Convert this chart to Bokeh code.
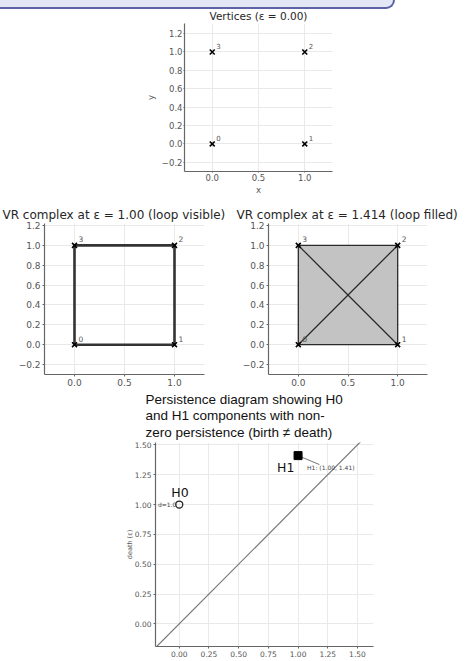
from bokeh.plotting import figure
from bokeh.layouts import column, row
from bokeh.models import Range1d, FixedTicker, Label, Div
from bokeh.core.properties import value
from bokeh.embed import file_html
from bokeh.resources import INLINE

# ---------------- data ----------------
vertex_x = [0.0, 1.0, 1.0, 0.0]
vertex_y = [0.0, 0.0, 1.0, 1.0]
vertex_labels = ["0", "1", "2", "3"]
edges_eps_loop = [(0, 1), (1, 2), (2, 3), (3, 0)]
edges_eps_filled = [(0, 1), (1, 2), (2, 3), (3, 0), (0, 2), (1, 3)]
titles = ["Vertices (ε = 0.00)",
          "VR complex at ε = 1.00 (loop visible)",
          "VR complex at ε = 1.414 (loop filled)"]
pd_title_lines = ["Persistence diagram showing H0",
                  "and H1 components with non-",
                  "zero persistence (birth ≠ death)"]

h0_birth = [0.0]
h0_death = [1.0]
h0_note = ["d=1.0"]
h1_birth = [1.0]
h1_death = [1.41]
h1_note = ["H1: (1.00, 1.41)"]
diag_xy = [-0.2, 1.55]

vr_xticks = [0.0, 0.5, 1.0]
vr_xtick_labels = ["0.0", "0.5", "1.0"]
vr_yticks = [-0.2, 0.0, 0.2, 0.4, 0.6, 0.8, 1.0, 1.2]
vr_ytick_labels = ["−0.2", "0.0", "0.2", "0.4", "0.6", "0.8", "1.0", "1.2"]
pd_ticks = [0.0, 0.25, 0.5, 0.75, 1.0, 1.25, 1.5]
pd_tick_labels = ["0.00", "0.25", "0.50", "0.75", "1.00", "1.25", "1.50"]

FONT = "DejaVu Sans"


def style_axes(p, tick_font, label_font, tick_out=2, standoff=2):
    for ax in (p.xaxis[0], p.yaxis[0]):
        ax.axis_line_color = "#666666"
        ax.axis_line_width = 1.2
        ax.major_tick_line_color = "#666666"
        ax.major_tick_out = tick_out
        ax.major_tick_in = 0
        ax.minor_tick_line_color = None
        ax.major_label_text_font = FONT
        ax.major_label_text_font_size = tick_font
        ax.major_label_text_color = "#555555"
        ax.major_label_standoff = standoff
        ax.axis_label_text_font = FONT
        ax.axis_label_text_font_size = label_font
        ax.axis_label_text_font_style = "normal"
        ax.axis_label_text_color = "#555555"
        ax.axis_label_standoff = 3
    p.grid.grid_line_color = "#e9e9e9"
    p.outline_line_color = None
    p.background_fill_color = "white"
    p.border_fill_color = "white"


def set_title(p, text, size, font, color, align, offset, line_height=1.2):
    p.title.text = text
    p.title.align = align
    p.title.offset = offset
    p.title.vertical_align = "top"
    p.title.standoff = 0
    p.title.text_font = font
    p.title.text_font_style = "normal"
    p.title.text_font_size = size
    p.title.text_color = color
    p.title.text_line_height = line_height


def vr_figure(title, w, h, left, right, top, bottom, tick_font, title_offset):
    p = figure(width=w, height=h, x_range=Range1d(-0.3, 1.3), y_range=Range1d(-0.3, 1.22),
               output_backend="svg", toolbar_location=None,
               min_border_left=left, min_border_right=right,
               min_border_top=top, min_border_bottom=bottom)
    set_title(p, title, "12px", FONT, "#262626", "left", title_offset, line_height=1.0)
    p.xaxis.ticker = FixedTicker(ticks=vr_xticks)
    p.yaxis.ticker = FixedTicker(ticks=vr_yticks)
    p.xaxis.major_label_overrides = dict(zip(vr_xticks, vr_xtick_labels))
    p.yaxis.major_label_overrides = dict(zip(vr_yticks, vr_ytick_labels))
    style_axes(p, tick_font, "8.5px")
    return p


def draw_vertices(p, label_font):
    p.scatter(vertex_x, vertex_y, marker="x", size=7, line_color="black", line_width=1.6)
    p.text(vertex_x, vertex_y, text=vertex_labels, x_offset=4, y_offset=-6,
           text_font=value(FONT), text_font_size=label_font, text_color="#555555",
           text_baseline="middle", text_align="left")


def edge_lines(edges):
    xs = [[vertex_x[a], vertex_x[b]] for a, b in edges]
    ys = [[vertex_y[a], vertex_y[b]] for a, b in edges]
    return xs, ys


# ---------------- banner (cut-off header box) ----------------
banner = Div(text="", width=395, height=9, margin=(0, 0, 0, 0),
             styles={"background-color": "#e4e8f6",
                     "border-right": "2px solid #5b63a6",
                     "border-bottom": "2px solid #5b63a6",
                     "border-bottom-right-radius": "12px",
                     "box-sizing": "border-box"})

# ---------------- top: vertices ----------------
p_top = figure(width=468, height=191, x_range=Range1d(-0.3, 1.3), y_range=Range1d(-0.3, 1.31),
               output_backend="svg", toolbar_location=None,
               min_border_left=184, min_border_right=136, min_border_top=13, min_border_bottom=29)
set_title(p_top, titles[0], "10.5px", FONT, "#262626", "center", 0)
p_top.xaxis.ticker = FixedTicker(ticks=vr_xticks)
p_top.yaxis.ticker = FixedTicker(ticks=vr_yticks)
p_top.xaxis.major_label_overrides = dict(zip(vr_xticks, vr_xtick_labels))
p_top.yaxis.major_label_overrides = dict(zip(vr_yticks, vr_ytick_labels))
p_top.xaxis.axis_label = "x"
p_top.yaxis.axis_label = "y"
style_axes(p_top, "8.5px", "8.5px", tick_out=1, standoff=1)
p_top.xaxis.axis_label_standoff = 1
draw_vertices(p_top, "7px")

# ---------------- middle left: eps = 1.00 ----------------
p_loop = vr_figure(titles[1], 234, 190, 44, 30, 23, 16, "9px", -42)
xs, ys = edge_lines(edges_eps_loop)
p_loop.multi_line(xs, ys, line_color="#333333", line_width=2.6)
draw_vertices(p_loop, "7.5px")

# ---------------- middle right: eps = 1.414 ----------------
p_fill = vr_figure(titles[2], 234, 190, 34, 41, 23, 16, "9px", -32)
p_fill.patch(vertex_x, vertex_y, fill_color="#c3c3c3", line_color=None)
xs, ys = edge_lines(edges_eps_filled)
p_fill.multi_line(xs, ys, line_color="#2a2a2a", line_width=1.3)
draw_vertices(p_fill, "7.5px")

# ---------------- bottom: persistence diagram ----------------
p_pd = figure(width=468, height=271, x_range=Range1d(-0.2, 1.635), y_range=Range1d(-0.19, 1.52),
              output_backend="svg", toolbar_location=None,
              min_border_left=155, min_border_right=95, min_border_top=52, min_border_bottom=15)
set_title(p_pd, "\n".join(pd_title_lines), "13.5px", "Liberation Sans", "#111111", "left", -10,
          line_height=1.13)
p_pd.xaxis.ticker = FixedTicker(ticks=pd_ticks)
p_pd.yaxis.ticker = FixedTicker(ticks=pd_ticks)
p_pd.xaxis.major_label_overrides = dict(zip(pd_ticks, pd_tick_labels))
p_pd.yaxis.major_label_overrides = dict(zip(pd_ticks, pd_tick_labels))
p_pd.yaxis.axis_label = "death (ε)"
style_axes(p_pd, "7.5px", "6.5px")
p_pd.yaxis.axis_label_standoff = -2

p_pd.line(diag_xy, diag_xy, line_color="#777777", line_width=1.2)
# H0
p_pd.scatter(h0_birth, h0_death, marker="circle", size=7, fill_color=None,
             line_color="#222222", line_width=1.3)
p_pd.text(h0_birth, h0_death, text=h0_note, x_offset=-3, y_offset=0,
          text_font=value(FONT), text_font_size="6px", text_color="#444444",
          text_align="right", text_baseline="middle")
p_pd.text(h0_birth, h0_death, text=["H0"], x_offset=-8, y_offset=-12,
          text_font=value(FONT), text_font_size="12.5px", text_color="#111111",
          text_align="left", text_baseline="middle")
# H1
p_pd.segment(x0=h1_birth, y0=h1_death,
             x1=[b + 0.18 for b in h1_birth], y1=[d - 0.075 for d in h1_death],
             line_color="#666666", line_width=0.9)
p_pd.scatter(h1_birth, h1_death, marker="square", size=8, fill_color="black", line_color="black")
p_pd.text(h1_birth, h1_death, text=["H1"], x_offset=-21, y_offset=12,
          text_font=value(FONT), text_font_size="12.5px", text_color="#111111",
          text_align="left", text_baseline="middle")
p_pd.text(h1_birth, h1_death, text=h1_note, x_offset=9, y_offset=12,
          text_font=value(FONT), text_font_size="6px", text_color="#444444",
          text_align="left", text_baseline="middle")
p_pd.add_layout(Label(x=(p_pd.x_range.start + p_pd.x_range.end) / 2, y=p_pd.y_range.start,
                      y_offset=-11, text="birth (ε)", text_font=FONT, text_font_size="6.5px",
                      text_color="#555555", text_align="center", text_baseline="top"))

layout = column(banner, row(p_top), row(p_loop, p_fill), row(p_pd))
open("out.html", "w").write(file_html(layout, INLINE))
